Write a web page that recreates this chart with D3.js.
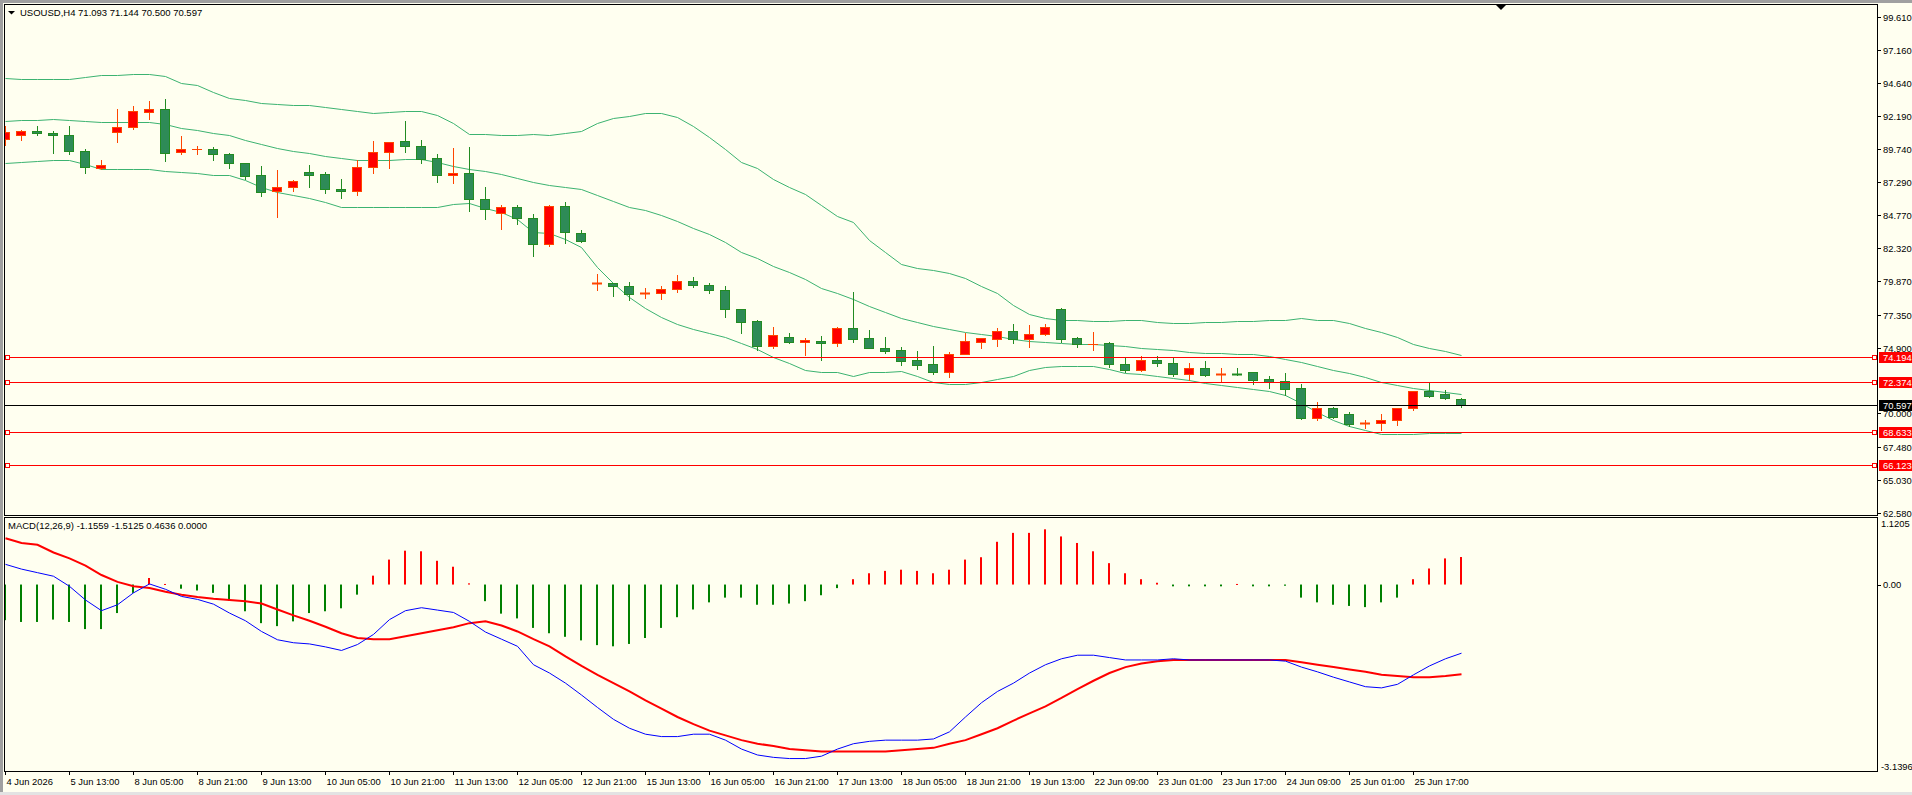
<!DOCTYPE html>
<html><head><meta charset="utf-8">
<script src="https://cdn.jsdelivr.net/npm/d3@7"></script>
<style>
html,body{margin:0;padding:0;background:#fffff0;overflow:hidden}
svg{display:block}
text{font-family:"Liberation Sans",Arial,sans-serif;}
</style></head><body>
<svg id="c" width="1912" height="795"></svg>
<script>
// ---------------- DATA ----------------
const symbolTitle = "USOUSD,H4  71.093 71.144 70.500 70.597";
const macdTitle = "MACD(12,26,9) -1.1559 -1.5125 0.4636 0.0000";

const opens = [90.45,90.75,91.08,90.93,90.75,89.56,88.29,90.98,91.35,92.52,92.69,89.48,89.70,89.71,89.33,88.66,
87.77,86.57,86.87,87.99,87.84,86.72,86.57,88.36,89.48,90.30,89.93,89.04,87.77,87.92,85.97,
84.93,85.38,84.56,82.66,85.45,83.43,79.66,79.70,79.48,78.90,78.96,79.25,79.85,79.55,79.18,
77.76,76.87,75.05,75.67,75.35,75.37,75.27,76.34,75.60,74.85,74.70,73.95,73.66,73.11,74.40,75.35,
75.57,76.12,75.52,75.89,77.76,75.60,75.15,75.22,73.66,73.21,73.95,73.73,72.91,73.36,72.86,
72.93,73.08,72.56,72.38,71.89,69.67,70.37,69.92,69.20,69.25,69.47,70.37,71.69,71.41,71.093];
const highs = [91.45,91.15,91.45,91.08,91.45,89.73,88.91,92.72,92.94,93.32,93.47,90.70,89.96,89.86,89.43,88.70,
88.46,88.16,87.42,88.54,87.99,87.49,88.91,90.33,90.28,91.82,90.40,89.36,89.78,89.86,86.92,
85.55,85.55,84.88,85.53,85.77,83.68,80.40,79.73,79.80,79.33,79.50,80.33,80.17,79.73,79.48,
77.78,76.97,76.44,75.99,75.60,75.77,76.44,79.06,76.22,75.70,74.95,74.65,75.03,74.55,76.02,75.60,
76.37,76.67,76.59,76.67,77.86,75.67,76.07,75.30,74.15,74.25,74.25,74.15,73.75,73.90,73.38,
73.38,73.08,72.78,73.01,72.21,70.84,70.50,70.12,69.50,69.95,70.37,71.64,72.34,71.74,71.144];
const lows = [90.05,90.43,90.80,89.46,89.38,87.97,88.26,90.28,91.25,92.00,88.86,89.38,89.38,88.94,88.34,87.47,
86.22,84.68,86.62,86.92,86.47,86.10,86.32,87.96,88.34,89.53,88.71,87.29,87.22,85.13,84.48,
83.78,84.16,81.77,82.51,82.74,82.81,79.23,78.78,78.46,78.63,78.56,79.08,79.45,79.00,77.21,
76.02,74.73,74.90,75.27,74.38,74.00,75.05,75.32,74.90,74.53,73.61,73.31,72.93,72.73,74.40,74.90,
75.02,75.27,74.97,75.82,75.35,74.92,74.75,73.43,73.06,73.18,73.56,72.81,72.49,72.76,72.41,
72.86,72.21,71.89,71.39,69.60,69.52,69.67,69.08,68.93,68.78,69.13,70.27,71.24,71.04,70.500];
const closes = [91.00,91.08,90.90,90.80,89.56,88.36,88.51,91.35,92.54,92.69,89.46,89.71,89.72,89.38,88.66,87.74,
86.55,86.87,87.32,87.82,86.72,86.57,88.36,89.48,90.23,89.93,89.01,87.77,87.92,85.97,85.23,
85.38,84.56,82.66,85.45,83.51,82.84,79.70,79.48,78.88,78.96,79.25,79.85,79.55,79.18,77.76,
76.84,75.05,75.82,75.32,75.45,75.27,76.34,75.57,74.90,74.67,73.93,73.63,73.11,74.43,75.37,75.60,
76.12,75.52,75.89,76.42,75.57,75.15,75.20,73.66,73.21,73.95,73.73,72.91,73.36,72.83,72.91,
72.88,72.51,72.31,71.84,69.67,70.37,69.75,69.22,69.25,69.47,70.37,71.64,71.31,71.12,70.597];

const bbUpper = [95.01,94.93,94.93,94.93,94.93,95.13,95.23,95.23,95.31,95.31,95.18,94.64,94.51,94.01,93.54,93.39,
93.17,93.07,92.99,92.99,92.89,92.74,92.54,92.42,92.49,92.54,92.54,92.25,91.65,90.88,90.88,
90.75,90.75,90.88,90.78,90.93,91.05,91.65,92.02,92.20,92.40,92.40,92.10,91.47,90.65,89.73,
88.79,88.29,87.47,86.92,86.35,85.53,84.76,84.26,82.94,82.07,81.15,80.85,80.67,80.45,80.08,79.53,
78.96,78.09,77.41,77.09,76.94,76.94,76.87,76.87,76.94,76.94,76.79,76.74,76.74,76.79,76.79,
76.87,76.87,76.94,76.96,77.09,76.94,76.94,76.74,76.37,76.09,75.70,75.17,74.90,74.63,74.33];
const bbMiddle = [91.80,91.87,91.90,91.95,91.92,91.85,91.75,91.72,91.77,91.75,91.57,91.27,91.13,90.95,90.75,90.40,
90.08,89.81,89.61,89.43,89.21,89.04,88.94,88.89,88.89,88.96,88.99,88.79,88.49,88.26,88.09,
87.87,87.57,87.27,87.02,86.87,86.75,86.32,85.85,85.43,85.15,84.78,84.33,83.83,83.36,82.76,
82.07,81.57,81.02,80.55,80.00,79.33,78.96,78.53,77.99,77.59,77.09,76.79,76.54,76.32,76.04,75.92,
75.75,75.55,75.40,75.30,75.22,75.20,75.17,75.07,75.00,74.90,74.78,74.70,74.58,74.48,74.48,
74.40,74.40,74.25,74.08,73.83,73.50,73.26,73.01,72.68,72.34,72.11,71.86,71.76,71.56,71.42];
const bbLower = [88.66,88.74,88.84,88.91,88.91,88.59,88.24,88.21,88.21,88.21,88.09,87.99,87.92,87.79,87.77,87.42,
86.89,86.55,86.27,86.07,85.77,85.40,85.40,85.40,85.40,85.43,85.43,85.38,85.60,85.70,85.30,
85.00,84.48,83.56,83.48,82.99,82.39,80.95,79.75,78.71,77.83,77.16,76.67,76.27,76.02,75.72,
75.27,74.80,74.18,73.73,73.23,73.08,73.06,72.78,73.08,73.08,73.13,72.76,72.34,72.19,72.19,72.31,
72.54,72.78,73.23,73.43,73.51,73.51,73.51,73.28,73.03,72.91,72.81,72.66,72.46,72.26,72.09,
71.94,71.81,71.64,71.34,70.74,70.10,69.50,69.03,68.75,68.48,68.43,68.45,68.50,68.50,68.50];

const macdHist = [-0.60,-0.63,-0.63,-0.59,-0.63,-0.75,-0.75,-0.48,-0.14,0.11,0.01,-0.07,-0.10,-0.14,-0.27,-0.45,
-0.65,-0.70,-0.62,-0.48,-0.45,-0.40,-0.17,0.15,0.42,0.57,0.56,0.40,0.30,0.02,-0.28,
-0.49,-0.57,-0.73,-0.82,-0.88,-0.94,-1.02,-1.04,-1.00,-0.90,-0.73,-0.55,-0.42,-0.30,-0.22,
-0.22,-0.34,-0.34,-0.32,-0.28,-0.18,-0.06,0.09,0.19,0.23,0.25,0.23,0.19,0.25,0.42,0.46,
0.72,0.87,0.87,0.93,0.81,0.70,0.56,0.36,0.19,0.09,0.03,-0.03,-0.03,-0.03,-0.03,
0.01,-0.03,-0.03,-0.02,-0.22,-0.30,-0.34,-0.36,-0.38,-0.30,-0.22,0.09,0.27,0.44,0.4636];
const macdMain = [0.34,0.26,0.20,0.14,-0.03,-0.26,-0.44,-0.34,-0.14,0.01,-0.08,-0.20,-0.25,-0.33,-0.48,-0.61,
-0.79,-0.93,-0.98,-1.00,-1.05,-1.11,-1.01,-0.84,-0.59,-0.44,-0.39,-0.43,-0.47,-0.62,-0.80,
-0.92,-1.04,-1.35,-1.49,-1.66,-1.86,-2.07,-2.27,-2.42,-2.52,-2.56,-2.56,-2.52,-2.52,-2.62,
-2.77,-2.87,-2.91,-2.93,-2.93,-2.89,-2.77,-2.68,-2.64,-2.62,-2.62,-2.62,-2.60,-2.48,-2.23,-1.99,
-1.80,-1.66,-1.49,-1.35,-1.25,-1.19,-1.19,-1.23,-1.27,-1.27,-1.27,-1.25,-1.27,-1.27,-1.27,
-1.27,-1.27,-1.27,-1.29,-1.39,-1.47,-1.56,-1.64,-1.72,-1.74,-1.68,-1.52,-1.37,-1.25,-1.1559];
const macdSignal = [0.78,0.70,0.67,0.54,0.44,0.32,0.16,0.045,-0.03,-0.06,-0.12,-0.17,-0.21,-0.24,-0.26,-0.28,
-0.32,-0.42,-0.52,-0.61,-0.71,-0.82,-0.90,-0.92,-0.92,-0.87,-0.82,-0.77,-0.72,-0.65,-0.62,
-0.69,-0.79,-0.92,-1.04,-1.21,-1.37,-1.52,-1.66,-1.80,-1.95,-2.09,-2.23,-2.35,-2.46,-2.54,
-2.62,-2.68,-2.72,-2.77,-2.79,-2.81,-2.81,-2.81,-2.81,-2.81,-2.79,-2.77,-2.75,-2.68,-2.62,-2.52,
-2.42,-2.29,-2.17,-2.05,-1.91,-1.76,-1.62,-1.49,-1.39,-1.33,-1.29,-1.27,-1.27,-1.27,-1.27,
-1.27,-1.27,-1.27,-1.27,-1.31,-1.35,-1.39,-1.43,-1.47,-1.52,-1.54,-1.56,-1.56,-1.54,-1.5125];

const priceTicks = [99.610,97.160,94.640,92.190,89.740,87.290,84.770,82.320,79.870,77.350,74.900,70.000,67.480,65.030,62.580];
const macdTicks = [1.1205, 0.00, -3.1396];
const macdTickLabels = ["1.1205","0.00","-3.1396"];
const timeLabels = ["4 Jun 2026","5 Jun 13:00","8 Jun 05:00","8 Jun 21:00","9 Jun 13:00","10 Jun 05:00","10 Jun 21:00",
"11 Jun 13:00","12 Jun 05:00","12 Jun 21:00","15 Jun 13:00","16 Jun 05:00","16 Jun 21:00","17 Jun 13:00","18 Jun 05:00",
"18 Jun 21:00","19 Jun 13:00","22 Jun 09:00","23 Jun 01:00","23 Jun 17:00","24 Jun 09:00","25 Jun 01:00","25 Jun 17:00"];
const labelEvery = 4;
const levels = [74.194, 72.374, 68.633, 66.123];
const lastPrice = 70.597;

// ---------------- LAYOUT ----------------
const W = 1912, H = 795;
const L = 4, T = 4, R = 1877;
const mainBottom = 515, macdTop = 517, macdBottom = 771;
const BG = "#fffff0";
const BULL_FILL = "#ff0000", BULL_LINE = "#ff4500";
const BEAR_FILL = "#2e8b57", BEAR_LINE = "#228b22";
const BAND = "#3cb371";

const svg = d3.select("#c");
const n = closes.length;
const x = d3.scaleLinear().domain([0, n - 1]).range([5.3, 5.3 + 16 * (n - 1)]);
const px = i => Math.round(x(i));
const y = d3.scaleLinear().domain([62.58, 99.61]).range([512.7, 16.7]);
const ym = d3.scaleLinear().domain([-3.1396, 1.1205]).range([771, 518]);
const fmt3 = d3.format(".3f");

svg.append("rect").attr("width", W).attr("height", H).attr("fill", BG);
// window edges
svg.append("rect").attr("x",0).attr("y",0).attr("width",W).attr("height",3).attr("fill","#a0a0a0");
svg.append("rect").attr("x",0).attr("y",0).attr("width",3).attr("height",H).attr("fill","#a0a0a0");
svg.append("rect").attr("x",0).attr("y",792).attr("width",W).attr("height",3).attr("fill","#e3e3e3");

const defs = svg.append("defs");
defs.append("clipPath").attr("id","mainClip").append("rect")
  .attr("x", L+1).attr("y", T+1).attr("width", R-L-1).attr("height", mainBottom-T-1);
defs.append("clipPath").attr("id","macdClip").append("rect")
  .attr("x", L+1).attr("y", macdTop+1).attr("width", R-L-1).attr("height", macdBottom-macdTop-1);

const main = svg.append("g").attr("clip-path","url(#mainClip)");
const macdG = svg.append("g").attr("clip-path","url(#macdClip)");

// Bollinger bands
const bandLine = arr => d3.line().x((d,i)=>px(i)+0.5).y(d=>Math.round(y(d))+0.5)(arr);
[bbUpper, bbMiddle, bbLower].forEach(arr => {
  main.append("path").attr("d", bandLine(arr)).attr("fill","none").attr("stroke",BAND).attr("stroke-width",1);
});

// horizontal levels
levels.forEach(v => {
  const ly = Math.round(y(v)) + 0.5;
  svg.append("line").attr("x1",L).attr("x2",R).attr("y1",ly).attr("y2",ly).attr("stroke","#ff0000").attr("stroke-width",1);
});
const lpY = Math.round(y(lastPrice)) + 0.5;
svg.append("line").attr("x1",L).attr("x2",R).attr("y1",lpY).attr("y2",lpY).attr("stroke","#000").attr("stroke-width",1);

// candles
const candles = main.selectAll("g.c").data(d3.range(n)).join("g");
candles.each(function(i){
  const g = d3.select(this);
  const o = opens[i], c = closes[i], h = highs[i], l = lows[i];
  const bull = c >= o;
  const cx = px(i);
  const lineCol = bull ? BULL_LINE : BEAR_LINE;
  const fillCol = bull ? BULL_FILL : BEAR_FILL;
  g.append("line").attr("x1",cx+0.5).attr("x2",cx+0.5)
    .attr("y1",Math.round(y(h))).attr("y2",Math.round(y(l))+1)
    .attr("stroke",lineCol).attr("stroke-width",1);
  const top = Math.round(y(Math.max(o,c))), bot = Math.round(y(Math.min(o,c)));
  if (bot - top < 2) {
    g.append("line").attr("x1",cx-5).attr("x2",cx+5).attr("y1",top+0.5).attr("y2",top+0.5)
      .attr("stroke",lineCol).attr("stroke-width", bot-top>=1?2:1);
  } else {
    g.append("rect").attr("x",cx-4.5).attr("y",top+0.5).attr("width",9).attr("height",bot-top)
      .attr("fill",fillCol).attr("stroke",lineCol).attr("stroke-width",1);
  }
});

// level markers (squares)
levels.forEach(v => {
  const ly = Math.round(y(v)) + 0.5;
  [5.5, 1872.5].forEach(sx => {
    svg.append("rect").attr("x",sx).attr("y",ly-2).attr("width",4).attr("height",4)
      .attr("fill",BG).attr("stroke","#ff0000").attr("stroke-width",1);
  });
});

// MACD histogram & lines
const zeroY = ym(0);
macdG.selectAll("rect.h").data(macdHist).join("rect")
  .attr("x",(d,i)=>px(i)-1).attr("width",2)
  .attr("y",d=> d>=0 ? ym(d) : zeroY)
  .attr("height",d=> Math.max(1, Math.abs(ym(d)-zeroY)))
  .attr("fill",d=> d>=0 ? "#ff0000" : "#008000");
const mline = d3.line().x((d,i)=>px(i)+0.5).y(d=>ym(d));
macdG.append("path").attr("d", mline(macdSignal)).attr("fill","none").attr("stroke","#ff0000").attr("stroke-width",2);
macdG.append("path").attr("d", mline(macdMain)).attr("fill","none").attr("stroke","#0000ff").attr("stroke-width",1);

// frames
const frame = svg.append("g").attr("fill","none").attr("stroke","#000").attr("stroke-width",1);
frame.append("rect").attr("x",L+0.5).attr("y",T+0.5).attr("width",R-L).attr("height",mainBottom-T);
frame.append("rect").attr("x",L+0.5).attr("y",macdTop+0.5).attr("width",R-L).attr("height",macdBottom-macdTop);

// price axis
const fs = "9.4px";
priceTicks.forEach(v => {
  const ty = Math.round(y(v)) + 0.5;
  svg.append("line").attr("x1",R+1).attr("x2",R+4).attr("y1",ty).attr("y2",ty).attr("stroke","#000");
  svg.append("text").attr("x",R+6).attr("y",ty).attr("dy","0.35em").attr("font-size",fs).attr("fill","#000").text(fmt3(v));
});
// level labels
function priceBox(v, col){
  const ty = Math.round(y(v));
  svg.append("rect").attr("x",R+2).attr("y",ty-5).attr("width",W-R-2).attr("height",11).attr("fill",col);
  svg.append("text").attr("x",R+6).attr("y",ty+0.5).attr("dy","0.35em").attr("font-size",fs).attr("fill","#fff").text(fmt3(v));
}
levels.forEach(v => priceBox(v, "#ff0000"));
priceBox(lastPrice, "#000");

// MACD axis
macdTicks.forEach((v,k) => {
  let ty = ym(v);
  if (k === 0) ty = 524; if (k === 2) ty = 766.5;
  if (k === 1) svg.append("line").attr("x1",R+1).attr("x2",R+4).attr("y1",Math.round(ty)+0.5).attr("y2",Math.round(ty)+0.5).attr("stroke","#000");
  svg.append("text").attr("x",k===1?R+6:R+4).attr("y",ty).attr("dy","0.35em").attr("font-size",fs).attr("fill","#000").text(macdTickLabels[k]);
});

// time axis
timeLabels.forEach((t,k) => {
  const tx = px(k*labelEvery) + 0.5;
  svg.append("line").attr("x1",tx).attr("x2",tx).attr("y1",macdBottom).attr("y2",macdBottom+4).attr("stroke","#000");
  svg.append("text").attr("x",tx+1).attr("y",785).attr("font-size",fs).attr("fill","#000").text(t);
});

// titles
svg.append("path").attr("d","M8,11 L15,11 L11.5,14.5 Z").attr("fill","#000");
svg.append("text").attr("x",20).attr("y",16).attr("font-size","9.5px").attr("fill","#000").text(symbolTitle);
svg.append("text").attr("x",8).attr("y",529).attr("font-size","9.5px").attr("fill","#000").text(macdTitle);
// shift marker
svg.append("path").attr("d","M1495,4 L1507,4 L1501,10 Z").attr("fill","#000");
</script>
</body></html>
